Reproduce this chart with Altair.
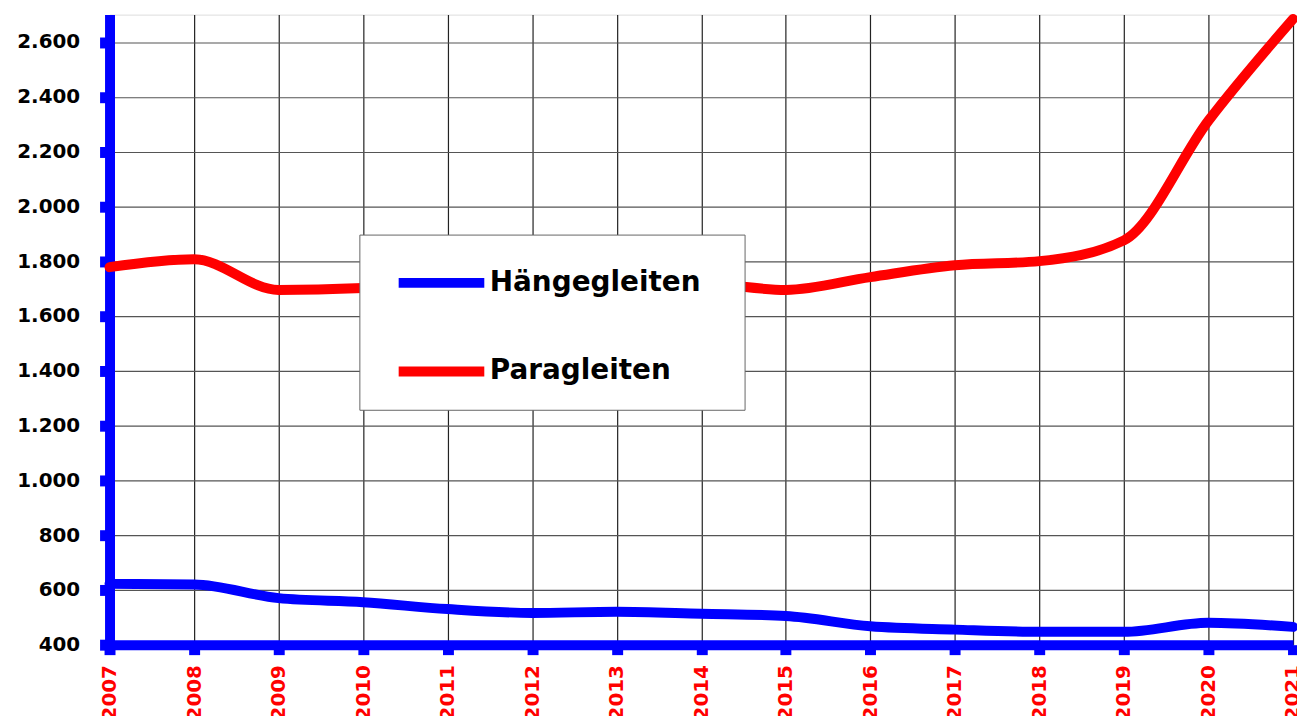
import altair as alt
import pandas as pd

years = list(range(2007, 2022))
haengegleiten = [622, 620, 570, 555, 530, 516, 520, 513, 505, 467, 455, 447, 447, 480, 465]
paragleiten = [1778, 1807, 1695, 1702, 1720, 1700, 1705, 1718, 1695, 1742, 1785, 1800, 1876, 2313, 2684]
series_names = ["Hängegleiten", "Paragleiten"]
series_colors = ["#0000FF", "#FF0000"]
y_ticks = list(range(400, 2601, 200))

rows = []
for name, vals in zip(series_names, [haengegleiten, paragleiten]):
    for yr, v in zip(years, vals):
        rows.append({"Jahr": yr, "Wert": v, "Serie": name})
df = pd.DataFrame(rows)

chart = alt.Chart(df).mark_line(
    strokeWidth=10, interpolate="monotone", strokeCap="round", strokeJoin="round"
).encode(
    x=alt.X(
        "Jahr:Q",
        scale=alt.Scale(domain=[2007, 2021], nice=False, zero=False),
        axis=alt.Axis(
            values=years, format="d", title=None, labelAngle=270,
            labelColor="#FF0000", labelFontWeight="bold", labelFontSize=20,
            labelFont="DejaVu Sans", labelPadding=10,
            domainColor="#0000FF", domainWidth=10,
            tickColor="#0000FF", tickWidth=11, tickSize=10,
            grid=True, gridColor="#222222", gridWidth=1.2,
            labelFlush=False, labelOverlap=False,
        ),
    ),
    y=alt.Y(
        "Wert:Q",
        scale=alt.Scale(domain=[400, 2700], nice=False, zero=False),
        axis=alt.Axis(
            values=y_ticks, title=None,
            labelExpr="replace(format(datum.value, ','), ',', '.')",
            labelColor="#000000", labelFontWeight="bold", labelFontSize=20,
            labelFont="DejaVu Sans", labelPadding=20,
            domainColor="#0000FF", domainWidth=10,
            tickColor="#0000FF", tickWidth=11, tickSize=10,
            grid=True, gridColor="#555555", gridWidth=1.2,
            labelFlush=False, labelOverlap=False,
        ),
    ),
    color=alt.Color(
        "Serie:N",
        scale=alt.Scale(domain=series_names, range=series_colors),
        legend=alt.Legend(
            title=" ", titleOrient="bottom", titleFontSize=1, titlePadding=17,
            orient="none", legendX=251, legendY=221,
            symbolType="stroke", symbolSize=7400, symbolStrokeWidth=10,
            symbolOffset=34, labelFontSize=28, labelFont="DejaVu Sans",
            labelFontWeight="bold", labelColor="#000000", labelOffset=0,
            labelExpr="datum.label + '\u2800\u2800'",
            rowPadding=20, padding=0, fillColor="#FFFFFF",
            strokeColor="#666666", labelLimit=400,
        ),
    ),
).properties(
    width=1189, height=633,
    autosize=alt.AutoSizeParams(type="none"),
    padding={"left": 102, "top": 5, "right": 4, "bottom": 70},
).configure_view(
    stroke="#000000", strokeWidth=3
).configure(background="#FFFFFF")

chart.save("out.html", embed_options={"renderer": "svg", "actions": False})
